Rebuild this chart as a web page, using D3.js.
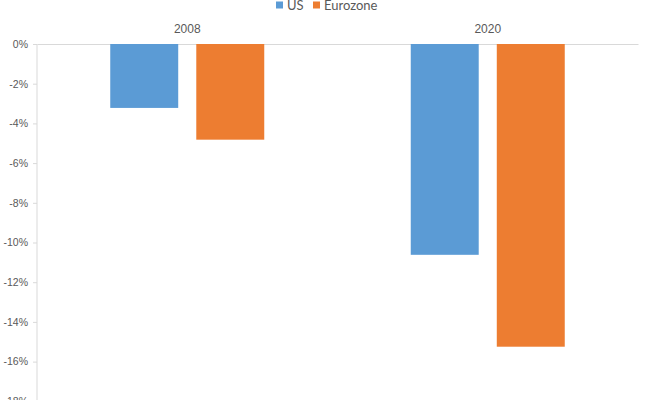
<!DOCTYPE html>
<html><head><meta charset="utf-8">
<script src="https://cdn.jsdelivr.net/npm/d3@7"></script>
<style>body{margin:0;background:#fff}svg{display:block;font-family:Lato,"Open Sans",sans-serif}</style>
</head><body><svg id="c" width="650" height="400"></svg>
<script>
const categories = ["2008", "2020"];
const seriesNames = ["US", "Eurozone"];
const usValues = [-3.22, -10.62];
const euroValues = [-4.82, -15.25];
const tickValues = [0, -2, -4, -6, -8, -10, -12, -14, -16, -18];
const colors = ["#5b9bd5", "#ed7d31"];

const svg = d3.select("#c");
const mLeft = 37, mRight = 638, mTop = 44;
const y = d3.scaleLinear().domain([0, -18]).range([mTop, mTop + 18 * 19.85]);
const x0 = d3.scaleBand().domain(categories).range([mLeft, mRight]).paddingInner(0).paddingOuter(0);
const x1 = d3.scaleBand().domain(seriesNames).range([0, 154]).paddingInner(0.21);

// y axis
const yAxis = d3.axisLeft(y).tickValues(tickValues).tickSize(4).tickFormat(d => d + "%");
const gy = svg.append("g").attr("transform", `translate(${mLeft},0)`).call(yAxis);
gy.select(".domain").attr("stroke", "#d9d9d9").attr("d", `M0,${mTop}V400`);
gy.selectAll(".tick line").attr("stroke", "#d9d9d9");
gy.selectAll(".tick text").attr("fill", "#595959").attr("font-size", 10.5).attr("x", -9);

// top category axis
const xAxis = d3.axisTop(x0).tickSize(0);
const gx = svg.append("g").attr("transform", `translate(0,${mTop})`).call(xAxis);
gx.select(".domain").attr("stroke", "#d9d9d9");
gx.selectAll(".tick text").attr("fill", "#595959").attr("font-size", 12).attr("dy", 0).attr("y", -11);

const data = categories.map((c, i) => ({cat: c, vals: [usValues[i], euroValues[i]]}));
const groups = svg.append("g").selectAll("g").data(data).join("g")
  .attr("transform", d => `translate(${x0(d.cat) + (x0.bandwidth() - 154) / 2},0)`);
groups.selectAll("rect").data(d => d.vals.map((v, j) => ({name: seriesNames[j], v, j})))
  .join("rect")
  .attr("x", d => x1(d.name))
  .attr("width", x1.bandwidth())
  .attr("y", y(0))
  .attr("height", d => y(d.v) - y(0))
  .attr("fill", d => colors[d.j]);

// legend
const legend = svg.append("g");
const lx = [276, 313];
seriesNames.forEach((n, i) => {
  legend.append("rect").attr("x", lx[i]).attr("y", 1.5).attr("width", 7).attr("height", 7).attr("fill", colors[i]);
  legend.append("text").attr("x", lx[i] + 11).attr("y", 10).attr("font-size", 13).attr("fill", "#595959").text(n);
});
</script></body></html>
